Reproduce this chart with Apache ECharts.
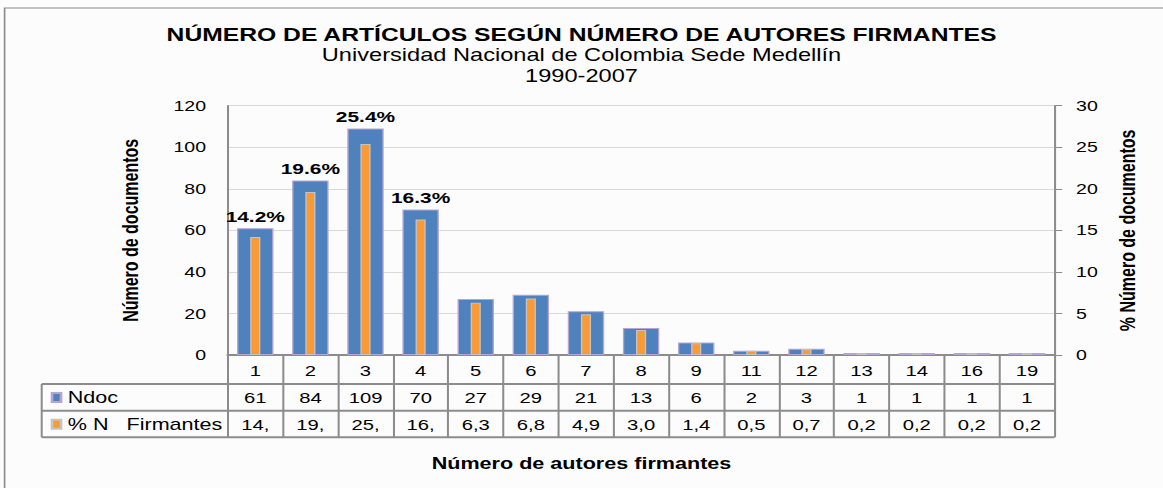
<!DOCTYPE html>
<html lang="es">
<head>
    <meta charset="UTF-8">
    <title>Número de artículos según número de autores firmantes</title>
    <script src="https://cdn.jsdelivr.net/npm/echarts@6/dist/echarts.min.js"></script>
    <style>
        html, body { margin: 0; padding: 0; background: #fcfcfc; overflow: hidden; }
        /* the original picture is stretched horizontally, so the chart is too */
        #chart { width: 862px; height: 488px; transform: scaleX(1.349188); transform-origin: 0 0; }
    </style>
</head>
<body>
    <div id="chart"></div>
    <script>
        // datos
        const autores = ['1', '2', '3', '4', '5', '6', '7', '8', '9', '11', '12', '13', '14', '16', '19'];
        const ndoc = [61, 84, 109, 70, 27, 29, 21, 13, 6, 2, 3, 1, 1, 1, 1];
        const pctFirmantes = [14.2, 19.6, 25.4, 16.3, 6.3, 6.8, 4.9, 3.0, 1.4, 0.5, 0.7, 0.2, 0.2, 0.2, 0.2];

        const S = 1163 / 862;           // horizontal stretch
        const FONT = 'Liberation Sans';
        const LINE = '#8c8c8c';

        // plot area and data table, in page pixels
        const plotLeft = 227.7 / S, plotRight = 1054.5 / S;
        const plotTop = 105.7, plotBottom = 355;
        const tblLeft = 41.7 / S;
        const rowY = [384, 410.7, 437.3];

        // the table cells show the percent cut like in Excel ("14," ...)
        const pctCell = pctFirmantes.map(v => v >= 10 ? Math.floor(v) + ',' : v.toFixed(1).replace('.', ','));

        const chart = echarts.init(document.getElementById('chart'), null, { renderer: 'svg' });

        const tableLines = rowY.map(y => ({
            type: 'line',
            shape: { x1: tblLeft, y1: y, x2: plotRight, y2: y },
            style: { stroke: LINE, lineWidth: 2 }
        }));
        tableLines.push({
            type: 'line',
            shape: { x1: tblLeft, y1: rowY[0], x2: tblLeft, y2: rowY[2] },
            style: { stroke: LINE, lineWidth: 1.5 }
        });

        const option = {
            backgroundColor: '#fcfcfc',
            textStyle: { fontFamily: FONT },
            title: [{
                text: 'NÚMERO DE ARTÍCULOS SEGÚN NÚMERO DE AUTORES FIRMANTES',
                subtext: 'Universidad Nacional de Colombia Sede Medellín\n1990-2007',
                left: 'center',
                top: 26,
                padding: 0,
                itemGap: 0,
                textStyle: { fontFamily: FONT, fontSize: 18.3, fontWeight: 'bold', color: '#000', lineHeight: 18 },
                subtextStyle: { fontFamily: FONT, fontSize: 17.5, color: '#000', lineHeight: 21 }
            }, {
                text: 'Número de autores firmantes',
                left: 'center',
                top: 456,
                padding: 0,
                textStyle: { fontFamily: FONT, fontSize: 16, fontWeight: 'bold', color: '#000', lineHeight: 16 }
            }],
            legend: {
                orient: 'vertical',
                left: 50.7 / S,
                top: 389.5,
                padding: 0,
                itemGap: 10.7,
                itemWidth: 9 / S,
                itemHeight: 9,
                icon: 'rect',
                selectedMode: false,
                textStyle: { fontFamily: FONT, fontSize: 16, color: '#000', lineHeight: 16 },
                data: ['Ndoc', '% N   Firmantes']
            },
            grid: {
                left: plotLeft,
                right: 862 - plotRight,
                top: plotTop,
                bottom: 488 - plotBottom
            },
            xAxis: [{
                type: 'category',
                data: autores,
                axisLine: { lineStyle: { color: LINE, width: 2 } },
                axisTick: { show: true, length: rowY[2] - plotBottom, lineStyle: { color: LINE, width: 1.5 } },
                axisLabel: {
                    interval: 0,
                    margin: 2,
                    formatter: function (v, i) {
                        return '{c|' + v + '}\n{c|' + ndoc[i] + '}\n{c|' + pctCell[i] + '}';
                    },
                    rich: {
                        c: { fontFamily: FONT, fontSize: 15, color: '#000', lineHeight: 27.2 }
                    }
                }
            }, {
                type: 'category',
                data: autores,
                show: false
            }],
            yAxis: [{
                type: 'value',
                min: 0,
                max: 120,
                interval: 20,
                name: 'Número de documentos',
                nameLocation: 'middle',
                nameGap: 64,
                nameTextStyle: { fontFamily: FONT, fontSize: 16, fontWeight: 'bold', color: '#000' },
                axisLine: { show: true, lineStyle: { color: LINE, width: 1.5 } },
                axisTick: { show: false },
                axisLabel: { margin: 16, fontFamily: FONT, fontSize: 14.5, color: '#000' },
                splitLine: { lineStyle: { color: '#d9d9d9', width: 1 } }
            }, {
                type: 'value',
                min: 0,
                max: 30,
                interval: 5,
                position: 'right',
                name: '% Número de documentos',
                nameLocation: 'middle',
                nameGap: 46,
                nameTextStyle: { fontFamily: FONT, fontSize: 16, fontWeight: 'bold', color: '#000' },
                axisLine: { show: true, lineStyle: { color: LINE, width: 1.5 } },
                axisTick: { show: true, length: 5.7, lineStyle: { color: LINE, width: 1 } },
                axisLabel: { margin: 16, fontFamily: FONT, fontSize: 14.5, color: '#000' },
                splitLine: { show: false }
            }],
            series: [{
                name: 'Ndoc',
                type: 'bar',
                xAxisIndex: 0,
                yAxisIndex: 0,
                barWidth: 27,
                itemStyle: { color: '#4f81bd', borderColor: '#b3a6d4', borderWidth: 1 },
                label: {
                    show: true,
                    position: 'top',
                    distance: 4,
                    fontFamily: FONT,
                    fontSize: 15.5,
                    fontWeight: 'bold',
                    color: '#000',
                    lineHeight: 16,
                    formatter: function (p) {
                        const v = pctFirmantes[p.dataIndex];
                        return v >= 10 ? v.toFixed(1) + '%' : '';
                    }
                },
                data: ndoc
            }, {
                name: '% N   Firmantes',
                type: 'bar',
                xAxisIndex: 1,
                yAxisIndex: 1,
                barWidth: 7.5,
                itemStyle: { color: '#f99a36', borderColor: '#c4c4c4', borderWidth: 1 },
                data: pctFirmantes
            }],
            graphic: [{
                type: 'rect',
                shape: { x: 4.6 / S, y: 8, width: 2000, height: 1000 },
                style: { fill: 'none', stroke: '#8a8a8a', lineWidth: 1.2 }
            }].concat(tableLines)
        };

        chart.setOption(option);
    </script>
</body>
</html>
